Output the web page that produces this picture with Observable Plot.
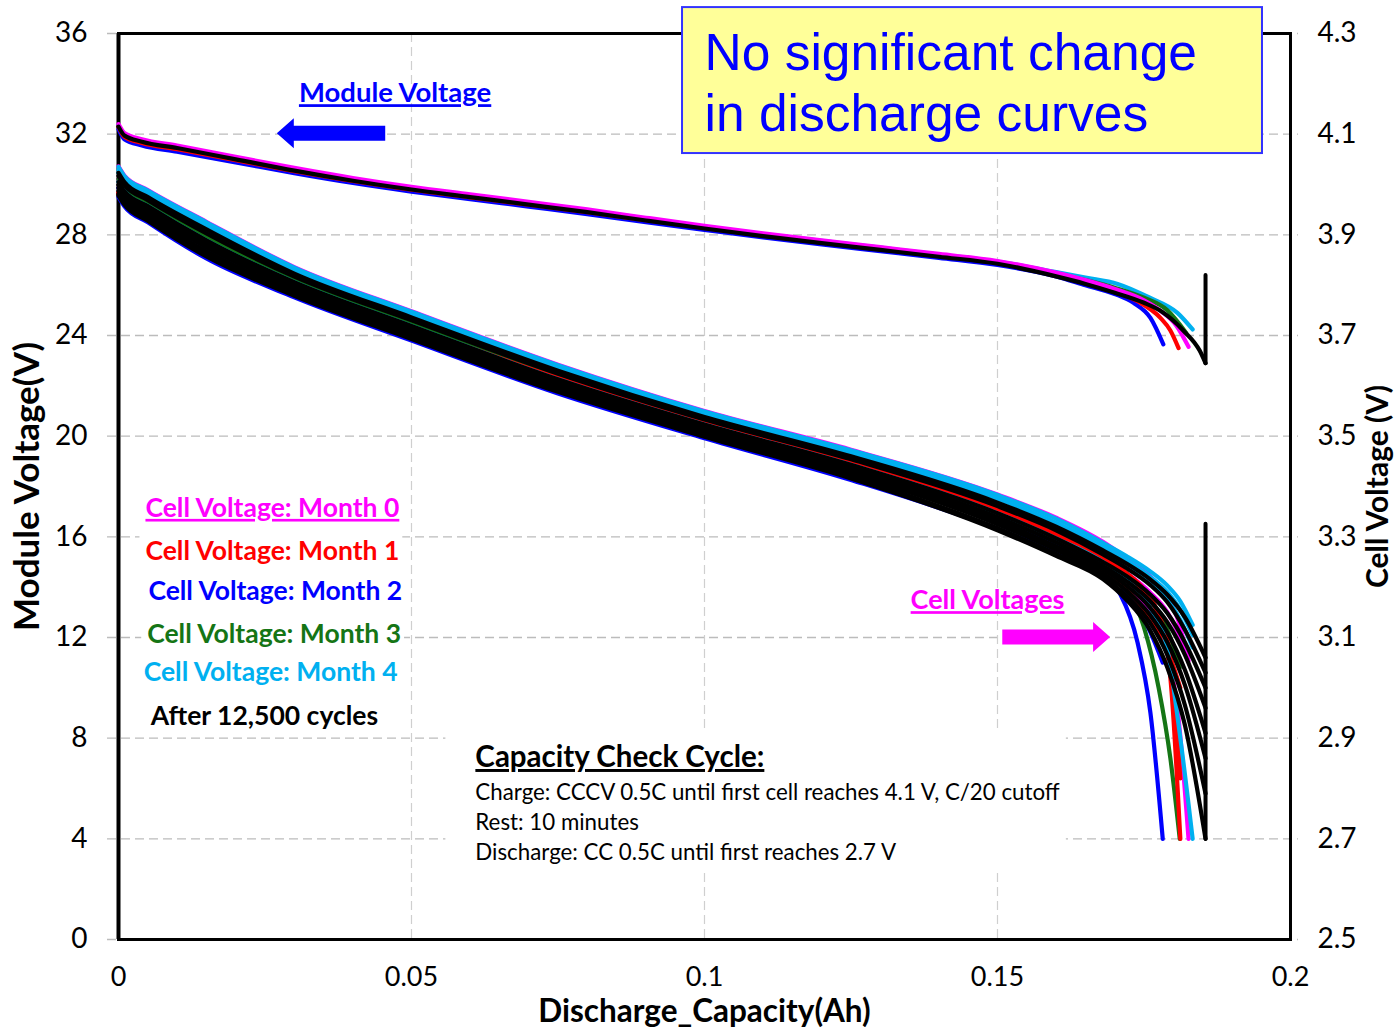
<!DOCTYPE html>
<html><head><meta charset="utf-8">
<script src="https://cdn.jsdelivr.net/npm/d3@7"></script>
<script src="https://cdn.jsdelivr.net/npm/@observablehq/plot@0.6"></script>
<style>html,body{margin:0;padding:0;background:#fff}#chart svg{display:block}</style>
</head><body><div id="chart"></div>
<script>
// ---------- axes / ticks ----------
const xTicks = [0, 0.05, 0.1, 0.15, 0.2];
const xTickLabels = ["0", "0.05", "0.1", "0.15", "0.2"];
const moduleTicks = [0, 4, 8, 12, 16, 20, 24, 28, 32, 36];
const cellTickLabels = ["2.5", "2.7", "2.9", "3.1", "3.3", "3.5", "3.7", "3.9", "4.1", "4.3"];
const cellRange = [2.5, 4.3];
const moduleRange = [0, 36];

const seriesNames = ["Month 0", "Month 1", "Month 2", "Month 3", "Month 4", "After 12,500 cycles"];
const seriesColors = ["#FF00FF", "#FF0000", "#0000FF", "#157515", "#00B0F0", "#000000"];

// ---------- module voltage curves (V) ----------
const capGridModule = [0, 0.001, 0.004, 0.01, 0.02, 0.03, 0.04, 0.05, 0.06, 0.07, 0.08, 0.09, 0.1, 0.11, 0.12, 0.13, 0.14, 0.15, 0.16];
const moduleMonth0 = [32.4, 32.05, 31.8, 31.55, 31.1, 30.66, 30.26, 29.91, 29.61, 29.31, 29.01, 28.68, 28.36, 28.06, 27.78, 27.51, 27.24, 26.96, 26.5];
const moduleMonth0TailCap = [0.165, 0.17, 0.175, 0.178, 0.1805, 0.1826];
const moduleMonth0Tail = [26.2, 25.85, 25.4, 24.95, 24.4, 23.55];
const moduleMonth1 = [32.3, 31.9, 31.65, 31.4, 30.97, 30.53, 30.14, 29.79, 29.49, 29.2, 28.9, 28.58, 28.27, 27.97, 27.7, 27.43, 27.16, 26.88, 26.42];
const moduleMonth1TailCap = [0.165, 0.17, 0.174, 0.1778, 0.1795, 0.1809];
const moduleMonth1Tail = [26.1, 25.75, 25.35, 24.7, 24.2, 23.5];
const moduleMonth2 = [32.2, 31.8, 31.55, 31.3, 30.88, 30.45, 30.06, 29.72, 29.42, 29.12, 28.82, 28.5, 28.2, 27.9, 27.62, 27.35, 27.08, 26.8, 26.35];
const moduleMonth2TailCap = [0.165, 0.17, 0.1732, 0.1761, 0.1783];
const moduleMonth2Tail = [26.0, 25.65, 25.3, 24.7, 23.65];
const moduleMonth3 = [32.3, 31.95, 31.72, 31.47, 31.03, 30.58, 30.18, 29.83, 29.53, 29.23, 28.93, 28.61, 28.29, 27.99, 27.71, 27.44, 27.17, 26.9, 26.45];
const moduleMonth3TailCap = [0.165, 0.17, 0.175, 0.179, 0.1822];
const moduleMonth3Tail = [26.2, 25.9, 25.5, 25.0, 24.1];
const moduleMonth4 = [32.35, 32.0, 31.75, 31.5, 31.06, 30.62, 30.22, 29.87, 29.57, 29.27, 28.97, 28.65, 28.33, 28.03, 27.76, 27.49, 27.22, 26.94, 26.52];
const moduleMonth4TailCap = [0.165, 0.1705, 0.176, 0.1807, 0.1833];
const moduleMonth4Tail = [26.3, 26.05, 25.5, 24.9, 24.24];
const moduleAfter = [32.3, 31.95, 31.7, 31.45, 31.0, 30.55, 30.15, 29.8, 29.5, 29.2, 28.9, 28.57, 28.25, 27.95, 27.67, 27.4, 27.13, 26.85, 26.35];
const moduleAfterTailCap = [0.165, 0.17, 0.175, 0.178, 0.1817, 0.1845, 0.1855];
const moduleAfterTail = [26.05, 25.7, 25.3, 24.95, 24.2, 23.4, 22.9];
// rest (voltage recovery) after the end of discharge, at constant capacity
const restCap = 0.1855;
const moduleRestV = [22.9, 26.4];
const cellRestV = [2.70, 3.326];

// ---------- cell voltage curves (V) ----------
const capGridCell = [0, 0.001, 0.005, 0.015, 0.03, 0.05, 0.075, 0.1, 0.125, 0.15, 0.16, 0.168];
const cellMonth0 = [
  [4.036, 4.018, 3.989, 3.926, 3.836, 3.748, 3.642, 3.55, 3.473, 3.384, 3.338, 3.29],
  [4.011, 3.993, 3.963, 3.896, 3.811, 3.724, 3.619, 3.528, 3.448, 3.354, 3.305, 3.258],
  [3.999, 3.981, 3.95, 3.882, 3.8, 3.713, 3.607, 3.517, 3.437, 3.339, 3.289, 3.242]
];
const cellMonth0TailCap = [0.172, 0.176, 0.179, 0.1808, 0.1826];
const cellMonth0Tail = [
  [3.258, 3.222, 3.18, 3.135, 3.054],
  [3.228, 3.19, 3.15, 3.11, 3.06],
  [3.205, 3.15, 3.07, 2.95, 2.70]
];
const cellMonth1 = [
  [3.984, 3.966, 3.935, 3.864, 3.791, 3.716, 3.616, 3.528, 3.448, 3.354, 3.305, 3.258],
  [3.981, 3.963, 3.931, 3.86, 3.785, 3.71, 3.61, 3.525, 3.445, 3.35, 3.301, 3.254],
  [3.984, 3.966, 3.934, 3.864, 3.785, 3.701, 3.598, 3.508, 3.428, 3.329, 3.277, 3.231]
];
const cellMonth1TailCap = [0.172, 0.175, 0.1775, 0.1795, 0.1812];
const cellMonth1Tail = [
  [3.228, 3.195, 3.142, 3.02, 2.70],
  [3.224, 3.19, 3.145, 3.06, 2.82],
  [3.195, 3.155, 3.11, 3.06, 3.0]
];
const cellMonth2 = [
  [3.993, 3.975, 3.944, 3.875, 3.794, 3.707, 3.602, 3.512, 3.431, 3.332, 3.281, 3.235],
  [3.975, 3.957, 3.925, 3.853, 3.776, 3.69, 3.585, 3.496, 3.413, 3.316, 3.268, 3.222]
];
const cellMonth2TailCap = [0.171, 0.1739, 0.1761, 0.1782];
const cellMonth2Tail = [
  [3.205, 3.16, 3.11, 3.05],
  [3.185, 3.09, 2.95, 2.70]
];
const cellMonth3 = [
  [4.011, 3.993, 3.963, 3.896, 3.811, 3.724, 3.619, 3.528, 3.448, 3.354, 3.305, 3.258],
  [3.999, 3.981, 3.95, 3.882, 3.8, 3.713, 3.607, 3.517, 3.437, 3.339, 3.289, 3.242]
];
const cellMonth3TailCap = [0.172, 0.175, 0.1775, 0.1795, 0.1811];
const cellMonth3Tail = [
  [3.228, 3.19, 3.15, 3.1, 3.04],
  [3.2, 3.12, 3.0, 2.86, 2.70]
];
const cellMonth4 = [
  [4.035, 4.017, 3.988, 3.925, 3.835, 3.747, 3.641, 3.549, 3.472, 3.383, 3.336, 3.288],
  [4.029, 4.011, 3.982, 3.918, 3.829, 3.741, 3.635, 3.544, 3.466, 3.376, 3.328, 3.28],
  [4.023, 4.005, 3.975, 3.911, 3.823, 3.736, 3.63, 3.538, 3.46, 3.368, 3.32, 3.273],
  [4.005, 3.987, 3.957, 3.889, 3.806, 3.719, 3.613, 3.523, 3.443, 3.347, 3.297, 3.25]
];
const cellMonth4TailCap = [0.172, 0.176, 0.179, 0.1812, 0.1833];
const cellMonth4Tail = [
  [3.262, 3.232, 3.203, 3.172, 3.125],
  [3.253, 3.221, 3.19, 3.155, 3.105],
  [3.245, 3.21, 3.175, 3.135, 3.08],
  [3.215, 3.16, 3.075, 2.9, 2.70]
];
const cellAfter = [
  [4.023, 4.005, 3.975, 3.911, 3.823, 3.736, 3.63, 3.538, 3.46, 3.368, 3.32, 3.273],
  [4.017, 3.999, 3.969, 3.903, 3.817, 3.73, 3.624, 3.533, 3.454, 3.361, 3.313, 3.265],
  [4.005, 3.987, 3.957, 3.889, 3.806, 3.719, 3.613, 3.523, 3.443, 3.347, 3.297, 3.25],
  [3.999, 3.981, 3.95, 3.882, 3.8, 3.713, 3.607, 3.517, 3.437, 3.339, 3.289, 3.242],
  [3.993, 3.975, 3.944, 3.875, 3.794, 3.707, 3.602, 3.512, 3.431, 3.332, 3.281, 3.235],
  [3.987, 3.969, 3.938, 3.867, 3.788, 3.701, 3.596, 3.507, 3.425, 3.325, 3.274, 3.227],
  [3.981, 3.963, 3.931, 3.86, 3.782, 3.696, 3.591, 3.501, 3.419, 3.317, 3.266, 3.22],
  [3.978, 3.96, 3.928, 3.857, 3.779, 3.693, 3.588, 3.499, 3.416, 3.313, 3.262, 3.216]
];
const cellAfterTailCap = [0.172, 0.176, 0.179, 0.182, 0.1855];
const cellAfterTail = [
  [3.247, 3.216, 3.185, 3.14, 3.06],
  [3.238, 3.205, 3.17, 3.115, 3.03],
  [3.222, 3.186, 3.148, 3.09, 3.0],
  [3.212, 3.173, 3.13, 3.065, 2.96],
  [3.203, 3.16, 3.11, 3.035, 2.91],
  [3.193, 3.145, 3.09, 3.005, 2.86],
  [3.183, 3.13, 3.065, 2.965, 2.79],
  [3.175, 3.115, 3.04, 2.925, 2.70]
];

// ---------- annotation texts ----------
const titleLines = ["No significant change", "in discharge curves"];
const legendLabels = ["Cell Voltage: Month 0", "Cell Voltage: Month 1", "Cell Voltage: Month 2", "Cell Voltage: Month 3", "Cell Voltage: Month 4", "After 12,500 cycles"];
const protocolTitle = "Capacity Check Cycle:";
const protocolLines = ["Charge: CCCV 0.5C until first cell reaches 4.1 V, C/20 cutoff", "Rest: 10 minutes", "Discharge: CC 0.5C until first reaches 2.7 V"];
const moduleTag = "Module Voltage";
const cellTag = "Cell Voltages";
const xLabel = "Discharge_Capacity(Ah)";
const yLabelLeft = "Module Voltage(V)";
const yLabelRight = "Cell Voltage (V)";

// ---------- build tables ----------
const toModuleScale = v => (v - cellRange[0]) * (moduleRange[1] - moduleRange[0]) / (cellRange[1] - cellRange[0]);
function moduleRows(series, body, tailCap, tail) {
  const rows = capGridModule.map((c, i) => ({series, id: series, cap: c, y: body[i]}));
  tailCap.forEach((c, i) => rows.push({series, id: series, cap: c, y: tail[i]}));
  return rows;
}
function cellRows(series, bodies, tailCap, tails) {
  const rows = [];
  bodies.forEach((b, k) => {
    const id = series + "-" + k;
    capGridCell.forEach((c, i) => rows.push({series, id, cap: c, y: toModuleScale(b[i])}));
    tailCap.forEach((c, i) => rows.push({series, id, cap: c, y: toModuleScale(tails[k][i])}));
  });
  return rows;
}
const moduleData = [
  moduleRows(seriesNames[0], moduleMonth0, moduleMonth0TailCap, moduleMonth0Tail),
  moduleRows(seriesNames[1], moduleMonth1, moduleMonth1TailCap, moduleMonth1Tail),
  moduleRows(seriesNames[2], moduleMonth2, moduleMonth2TailCap, moduleMonth2Tail),
  moduleRows(seriesNames[3], moduleMonth3, moduleMonth3TailCap, moduleMonth3Tail),
  moduleRows(seriesNames[4], moduleMonth4, moduleMonth4TailCap, moduleMonth4Tail),
  moduleRows(seriesNames[5], moduleAfter, moduleAfterTailCap, moduleAfterTail)
];
const cellData = [
  cellRows(seriesNames[0], cellMonth0, cellMonth0TailCap, cellMonth0Tail),
  cellRows(seriesNames[1], cellMonth1, cellMonth1TailCap, cellMonth1Tail),
  cellRows(seriesNames[2], cellMonth2, cellMonth2TailCap, cellMonth2Tail),
  cellRows(seriesNames[3], cellMonth3, cellMonth3TailCap, cellMonth3Tail),
  cellRows(seriesNames[4], cellMonth4, cellMonth4TailCap, cellMonth4Tail),
  cellRows(seriesNames[5], cellAfter, cellAfterTailCap, cellAfterTail)
];
const restData = [
  ...moduleRestV.map(v => ({id: "m", cap: restCap, y: v})),
  ...cellRestV.map(v => ({id: "c", cap: restCap, y: toModuleScale(v)}))
];

// draw orders (index into seriesNames); after-cycling curves on top
const moduleDrawOrder = [4, 3, 2, 1, 0, 5];
const cellDrawOrder = [0, 3, 2, 1, 4, 5];

// annotation placement (data coordinates: capacity, module voltage)
const titleBox = {x1: 0.09625, x2: 0.19522, y1: 31.23, y2: 37.03};
const titlePos = [{x: 0.1, y: 35.2}, {x: 0.1, y: 32.78}];
const legendPos = [[0.0046, 17.13], [0.0046, 15.42], [0.0051, 13.83], [0.0049, 12.12], [0.0043, 10.61], [0.0055, 8.86]];
const protocolPos = [[0.0609, 7.23], [0.0609, 5.84], [0.0609, 4.65], [0.0609, 3.46]];
const moduleTagPos = [0.0472, 33.62];
const cellTagPos = [0.1483, 13.47];
const arrows = [
  {tip: 0.0271, tail: 0.0456, y: 32.02, color: "#0000FF"},
  {tip: 0.1693, tail: 0.1509, y: 12.0, color: "#FF00FF"}
];

const lineMarks = [];
for (const k of moduleDrawOrder) {
  lineMarks.push(Plot.line(moduleData[k], {x: "cap", y: "y", z: "id", stroke: seriesColors[k], strokeWidth: 4.2, curve: "monotone-x"}));
}
for (const k of cellDrawOrder) {
  lineMarks.push(Plot.line(cellData[k], {x: "cap", y: "y", z: "id", stroke: seriesColors[k], strokeWidth: 4.2, curve: "monotone-x"}));
}

const legendRows = legendLabels.map((t, i) => ({t, x: legendPos[i][0], y: legendPos[i][1], c: seriesColors[i]}));
const protocolRows = [protocolTitle, ...protocolLines].map((t, i) => ({t, x: protocolPos[i][0], y: protocolPos[i][1]}));

const chart = Plot.plot({
  width: 1395, height: 1027,
  marginLeft: 118, marginRight: 105, marginTop: 33, marginBottom: 88,
  x: {domain: [0, 0.2]},
  y: {domain: moduleRange},
  style: {fontFamily: "Lato, 'Open Sans', sans-serif", fontSize: "28px", color: "#000", background: "#fff", overflow: "visible"},
  marks: [
    Plot.gridY(moduleTicks, {stroke: "#bcbcbc", strokeOpacity: 1, strokeWidth: 1.4, strokeDasharray: "9,5", insetLeft: -11, insetRight: -8}),
    Plot.gridX(xTicks.slice(1, -1), {stroke: "#cfcfcf", strokeOpacity: 1, strokeWidth: 1.2, strokeDasharray: "9,5"}),
    Plot.axisY({ticks: moduleTicks, anchor: "left", tickSize: 0, tickPadding: 31, label: null, fontSize: 28}),
    Plot.axisY({ticks: moduleTicks, anchor: "right", tickSize: 0, tickPadding: 27, label: null, fontSize: 28,
      tickFormat: d => cellTickLabels[moduleTicks.indexOf(d)]}),
    Plot.axisX({ticks: xTicks, tickSize: 0, tickPadding: 27, label: null, fontSize: 27,
      tickFormat: d => xTickLabels[xTicks.indexOf(d)]}),
    Plot.text([xLabel], {frameAnchor: "bottom", dy: 72, lineAnchor: "middle", textAnchor: "middle", fontWeight: "bold", fontSize: 31.5, text: d => d}),
    Plot.text([yLabelLeft], {frameAnchor: "left", dx: -91, rotate: -90, lineAnchor: "middle", textAnchor: "middle", fontWeight: "bold", fontSize: 35, text: d => d}),
    Plot.text([yLabelRight], {frameAnchor: "right", dx: 88, rotate: -90, lineAnchor: "middle", textAnchor: "middle", fontWeight: "bold", fontSize: 30, text: d => d}),
    Plot.frame({stroke: "#000", strokeWidth: 3}),
    Plot.ruleX([0], {stroke: "#000", strokeWidth: 4}),
    ...lineMarks,
    Plot.line(restData, {x: "cap", y: "y", z: "id", stroke: "#000", strokeWidth: 4}),
    // legend text
    Plot.text(legendRows, {x: "x", y: "y", text: "t", fill: "c", textAnchor: "start", fontWeight: "bold", fontSize: 26.5}),
    // capacity check cycle text
    Plot.text(protocolRows.slice(0, 1), {x: "x", y: "y", text: "t", textAnchor: "start", fontWeight: "bold", fontSize: 29.5, fill: "#000"}),
    Plot.text(protocolRows.slice(1), {x: "x", y: "y", text: "t", textAnchor: "start", fontSize: 22.3, fill: "#000"}),
    // tags
    Plot.text([moduleTag], {x: () => moduleTagPos[0], y: () => moduleTagPos[1], text: d => d, fill: "#0000FF", fontWeight: "bold", fontSize: 27.5}),
    Plot.text([cellTag], {x: () => cellTagPos[0], y: () => cellTagPos[1], text: d => d, fill: "#FF00FF", fontWeight: "bold", fontSize: 27}),
    // title box
    Plot.rect([titleBox], {x1: "x1", x2: "x2", y1: "y1", y2: "y2", fill: "#FFFF99", stroke: "#3333FF", strokeWidth: 2}),
    Plot.text(titlePos.map((p, i) => ({...p, t: titleLines[i]})), {x: "x", y: "y", text: "t", textAnchor: "start",
      fill: "#0000FF", fontSize: 51.5, fontFamily: "'Liberation Sans', Arial, sans-serif"})
  ]
});
document.getElementById("chart").appendChild(chart);

// ---------- post-processing: underlines, white text backgrounds, block arrows ----------
const svg = d3.select(chart);
const xs = chart.scale("x"), ys = chart.scale("y");
const underlined = new Set([legendLabels[0], protocolTitle, moduleTag, cellTag]);
svg.selectAll("text").each(function() {
  if (underlined.has(this.textContent)) this.style.textDecoration = "underline";
});
const allText = Array.from(chart.querySelectorAll("text"));
function absBox(texts) {
  let x0 = Infinity, y0 = Infinity, x1 = -Infinity, y1 = -Infinity;
  const inv = chart.getScreenCTM().inverse();
  texts.forEach(t => {
    const b = t.getBBox();
    const m = inv.multiply(t.getScreenCTM());
    const p0 = new DOMPoint(b.x, b.y).matrixTransform(m);
    const p1 = new DOMPoint(b.x + b.width, b.y + b.height).matrixTransform(m);
    x0 = Math.min(x0, p0.x, p1.x); y0 = Math.min(y0, p0.y, p1.y);
    x1 = Math.max(x1, p0.x, p1.x); y1 = Math.max(y1, p0.y, p1.y);
  });
  return {x0, y0, x1, y1};
}
function addBackground(texts, pad) {
  if (!texts.length) return;
  const b = absBox(texts);
  const g = texts[0].parentNode;
  const r = document.createElementNS("http://www.w3.org/2000/svg", "rect");
  r.setAttribute("x", b.x0 - pad[3]); r.setAttribute("y", b.y0 - pad[0]);
  r.setAttribute("width", b.x1 - b.x0 + pad[1] + pad[3]); r.setAttribute("height", b.y1 - b.y0 + pad[0] + pad[2]);
  r.setAttribute("fill", "#fff");
  g.parentNode.insertBefore(r, g);
}
legendLabels.forEach(l => addBackground(allText.filter(e => e.textContent === l), [2, 3, 2, 6]));
addBackground(allText.filter(e => e.textContent === protocolTitle || protocolLines.includes(e.textContent)), [10, 6, 8, 30]);
arrows.forEach(a => {
  const xt = xs.apply(a.tip), xb = xs.apply(a.tail), yc = ys.apply(a.y);
  const dir = Math.sign(xb - xt);
  const head = 17, sh = 7.5, hh = 15;
  const xn = xt + dir * head;
  const pts = [[xt, yc], [xn, yc - hh], [xn, yc - sh], [xb, yc - sh], [xb, yc + sh], [xn, yc + sh], [xn, yc + hh]];
  svg.append("path").attr("d", "M" + pts.map(p => p.join(",")).join("L") + "Z").attr("fill", a.color);
});
</script>
</body></html>
